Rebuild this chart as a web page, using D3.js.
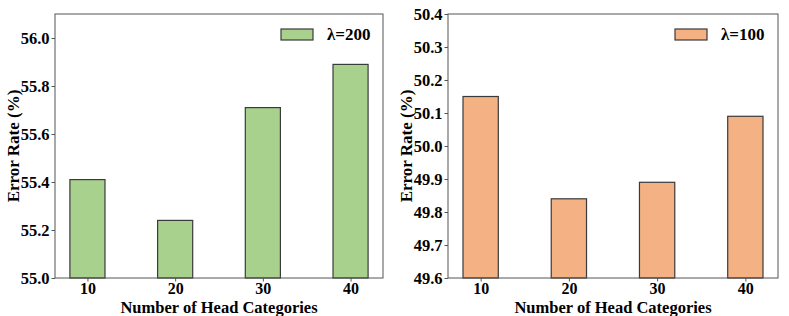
<!DOCTYPE html>
<html>
<head>
<meta charset="utf-8">
<script src="https://cdn.jsdelivr.net/npm/d3@7"></script>
<style>
  body { margin: 0; background: #fff; }
  svg { display: block; }
  text { font-family: "Liberation Serif", "Times New Roman", serif; font-weight: bold; fill: #000; }
</style>
</head>
<body>
<svg id="chart" width="789" height="316"></svg>
<script>
const categories = ['10', '20', '30', '40'];
const valuesL200 = [55.41, 55.24, 55.71, 55.89];
const valuesL100 = [50.15, 49.84, 49.89, 50.09];
const ticksL200 = [55.0, 55.2, 55.4, 55.6, 55.8, 56.0];
const ticksL100 = [49.6, 49.7, 49.8, 49.9, 50.0, 50.1, 50.2, 50.3, 50.4];

const FONT = '"Liberation Serif", "Times New Roman", serif';
const svg = d3.select('#chart');

const panels = [
  { left: 55, right: 383, yDomain: [55.0, 56.1], ticks: ticksL200, values: valuesL200,
    label: 'λ=200', fill: '#a9d18e', titleX: 13, legendX: 281 },
  { left: 448, right: 778, yDomain: [49.6, 50.4], ticks: ticksL100, values: valuesL100,
    label: 'λ=100', fill: '#f4b183', titleX: 406, legendX: 675 }
];

const plotTop = 14;
const plotBottom = 278;

panels.forEach(p => {
  const g = svg.append('g');
  const x = d3.scaleLinear().domain([-0.37, 3.37]).range([p.left, p.right]);
  const y = d3.scaleLinear().domain(p.yDomain).range([plotBottom, plotTop]);
  const barW = x(0.4) - x(0);

  g.selectAll('rect.bar').data(p.values).join('rect')
    .attr('class', 'bar')
    .attr('x', (d, i) => x(i) - barW / 2)
    .attr('y', d => y(d))
    .attr('width', barW)
    .attr('height', d => y(p.yDomain[0]) - y(d))
    .attr('fill', p.fill)
    .attr('stroke', '#3a3a3a')
    .attr('stroke-width', 1.2);

  // frame
  g.append('rect')
    .attr('x', p.left).attr('y', plotTop)
    .attr('width', p.right - p.left).attr('height', plotBottom - plotTop)
    .attr('fill', 'none').attr('stroke', '#555').attr('stroke-width', 1);

  const yAxis = g.append('g')
    .attr('transform', `translate(${p.left},0)`)
    .attr('font-family', FONT)
    .call(d3.axisLeft(y).tickValues(p.ticks).tickFormat(d3.format('.1f')).tickSize(3.5).tickPadding(2));
  yAxis.select('.domain').remove();
  yAxis.selectAll('line').attr('stroke', '#555');
  yAxis.selectAll('text').style('font-size', '16.5px').attr('dy', '0.35em');

  const xAxis = g.append('g')
    .attr('transform', `translate(0,${plotBottom})`)
    .attr('font-family', FONT)
    .call(d3.axisBottom(x).tickValues([0, 1, 2, 3]).tickFormat(i => categories[i]).tickSize(3.5).tickPadding(1));
  xAxis.select('.domain').remove();
  xAxis.selectAll('line').attr('stroke', '#555');
  xAxis.selectAll('text').style('font-size', '16px');

  g.append('text')
    .attr('x', (p.left + p.right) / 2).attr('y', 312.5)
    .attr('text-anchor', 'middle')
    .style('font-size', '16.5px')
    .text('Number of Head Categories');

  g.append('text')
    .attr('transform', `translate(${p.titleX},${(plotTop + plotBottom) / 2}) rotate(-90)`)
    .attr('text-anchor', 'middle')
    .attr('dy', '0.35em')
    .style('font-size', '17px')
    .text('Error Rate (%)');

  // legend
  g.append('rect')
    .attr('x', p.legendX).attr('y', 29)
    .attr('width', 32).attr('height', 11)
    .attr('fill', p.fill).attr('stroke', '#3a3a3a').attr('stroke-width', 1.2);
  g.append('text')
    .attr('x', p.legendX + 46).attr('y', 40)
    .style('font-size', '17px')
    .text(p.label);
});
</script>
</body>
</html>
